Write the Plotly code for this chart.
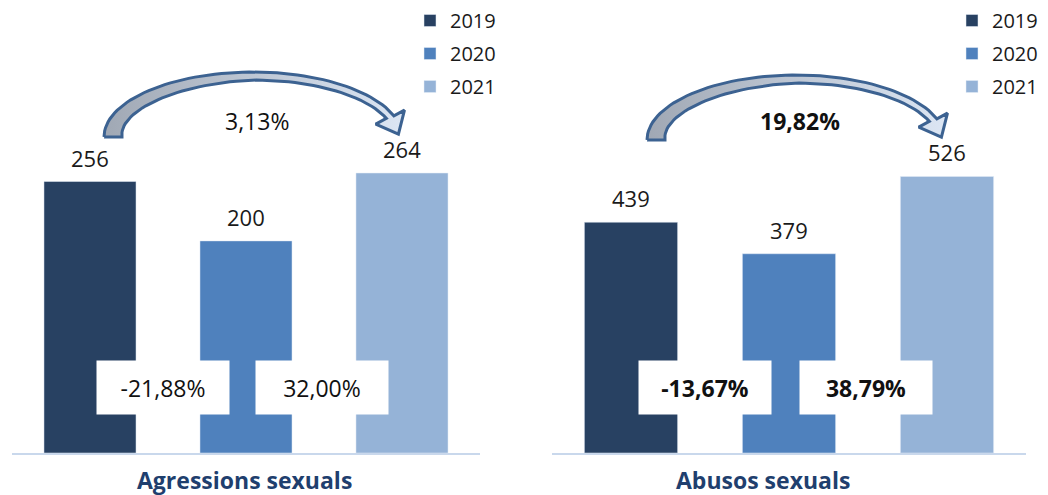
import plotly.graph_objects as go
from decimal import Decimal, ROUND_HALF_UP
import math

# ---------------- data ----------------
years = ["2019", "2020", "2021"]
panel_titles = ["Agressions sexuals", "Abusos sexuals"]
agressions = [256, 200, 264]
abusos = [439, 379, 526]
year_colors = ["#284162", "#4f81bd", "#95b3d7"]

# ---------------- layout constants (pixels) ----------------
W, H = 1048, 495
MB = 42                      # bottom margin -> baseline at y = 453
PLOT_H = H - MB
dom_px = [(12, 480), (552, 1026)]
px_per_unit = [1.0605, 0.5257]
y_top = [PLOT_H / s for s in px_per_unit]
bold_pct = [False, True]
title_x_px = [244, 763]
arrow_shift = [(0, 0), (543, 3)]


def pct(a, b):
    v = (Decimal(b) - Decimal(a)) / Decimal(a) * 100
    v = v.quantize(Decimal("0.01"), rounding=ROUND_HALF_UP)
    return f"{v}%".replace(".", ",")


def arrow_px(dx, dy):
    cx, cy, a_o, b_o = 253 + dx, 137 + dy, 149, 65
    t0, t1 = 180.0, 19.0

    def w(t):
        return 8 + 10 * max(0.0, (t - 90) / 90)

    n = 60
    ts = [t0 + (t1 - t0) * i / n for i in range(n + 1)]
    outer = [(cx + a_o * math.cos(math.radians(t)), cy - b_o * math.sin(math.radians(t))) for t in ts]
    inner = [(cx + (a_o - w(t)) * math.cos(math.radians(t)),
              cy - (b_o - w(t)) * math.sin(math.radians(t))) for t in ts]
    ox, oy = outer[-1]
    ix, iy = inner[-1]
    mx, my = (ox + ix) / 2, (oy + iy) / 2
    ang = math.radians(64)
    tx, ty = math.cos(ang), math.sin(ang)
    nx, ny = ty, -tx            # outward normal (up-right)
    half = 16
    pts = outer + [(mx + nx * half, my + ny * half), (mx + tx * 19, my + ty * 19),
                   (mx - nx * half, my - ny * half)] + inner[::-1] + [outer[0]]
    return pts


def px_to_data(p, k):
    x0, x1 = dom_px[k]
    cw = (x1 - x0) / 3
    return (p[0] - x0) / cw - 0.5, (PLOT_H - p[1]) / px_per_unit[k]


fig = go.Figure()
annotations = []
datasets = [agressions, abusos]

for k, vals in enumerate(datasets):
    xa = "x" if k == 0 else "x2"
    ya = "y" if k == 0 else "y2"
    lg = "legend" if k == 0 else "legend2"
    for i, (yr, v) in enumerate(zip(years, vals)):
        fig.add_trace(go.Bar(x=[i], y=[v], name=yr, marker_color=year_colors[i],
                             width=0.59, xaxis=xa, yaxis=ya, legend=lg,
                             legendgroup=f"{k}-{yr}", hoverinfo="skip"))
        annotations.append(dict(x=i, y=v, xref=xa, yref=ya, text=str(v), showarrow=False,
                                xanchor="center", yanchor="middle",
                                yshift=24, font=dict(size=22, color="#1a1a1a")))
    # curved arrow
    pts = [px_to_data(p, k) for p in arrow_px(*arrow_shift[k])]
    fig.add_trace(go.Scatter(x=[p[0] for p in pts], y=[p[1] for p in pts], mode="lines",
                             fill="toself",
                             fillgradient=dict(type="horizontal",
                                               colorscale=[[0, "#a0a8b4"], [1, "#dce6f4"]]),
                             line=dict(color="#3c6291", width=3),
                             xaxis=xa, yaxis=ya, showlegend=False, hoverinfo="skip"))
    fw = "bold" if bold_pct[k] else "normal"
    # total change text
    annotations.append(dict(x=1.07, y=(PLOT_H - 121) / PLOT_H, xref=xa, yref=f"{ya} domain",
                            text=pct(vals[0], vals[2]), showarrow=False,
                            xanchor="center", yanchor="middle",
                            font=dict(size=23, color="#111111", weight=fw)))
    # year-over-year boxes
    for j, bx in enumerate([0.47, 1.49]):
        annotations.append(dict(x=bx, y=(PLOT_H - 387) / PLOT_H, xref=xa, yref=f"{ya} domain",
                                text=pct(vals[j], vals[j + 1]), showarrow=False,
                                xanchor="center", yanchor="middle",
                                bgcolor="white", width=130, height=51, borderpad=1,
                                font=dict(size=23, color="#111111", weight=fw)))
    # panel title
    annotations.append(dict(x=title_x_px[k] / W, y=-(480 - PLOT_H) / PLOT_H, xref="paper", yref="paper",
                            xanchor="center", yanchor="middle",
                            text=panel_titles[k], showarrow=False,
                            font=dict(size=23, color="#1f3f6e", weight="bold")))

axis_common = dict(showgrid=False, zeroline=False, showticklabels=False, ticks="",
                   showline=True, linecolor="#c9d8ec", linewidth=2, range=[-0.5, 2.5], fixedrange=True)
yaxis_common = dict(visible=False, showgrid=False, zeroline=False, fixedrange=True)

legend_common = dict(font=dict(size=20, color="#1a1a1a"), bgcolor="rgba(0,0,0,0)",
                     tracegroupgap=4, traceorder="grouped", xanchor="left", yanchor="top",
                     itemclick=False, itemdoubleclick=False)

fig.update_layout(
    width=W, height=H,
    margin=dict(l=0, r=0, t=0, b=MB),
    paper_bgcolor="white", plot_bgcolor="white",
    font=dict(family="Open Sans, sans-serif"),
    barmode="overlay",
    xaxis=dict(domain=[dom_px[0][0] / W, dom_px[0][1] / W], anchor="y", **axis_common),
    xaxis2=dict(domain=[dom_px[1][0] / W, dom_px[1][1] / W], anchor="y2", **axis_common),
    yaxis=dict(domain=[0, 1], anchor="x", range=[0, y_top[0]], **yaxis_common),
    yaxis2=dict(domain=[0, 1], anchor="x2", range=[0, y_top[1]], **yaxis_common),
    legend=dict(x=410 / W, y=1 - 1 / PLOT_H, **legend_common),
    legend2=dict(x=952 / W, y=1 - 1 / PLOT_H, **legend_common),
    annotations=annotations,
    showlegend=True,
)

fig.write_html("out.html", config={"displayModeBar": False},
               post_script="document.body.style.margin='0';document.body.style.padding='0';"
                           "document.documentElement.style.overflow='hidden';")
